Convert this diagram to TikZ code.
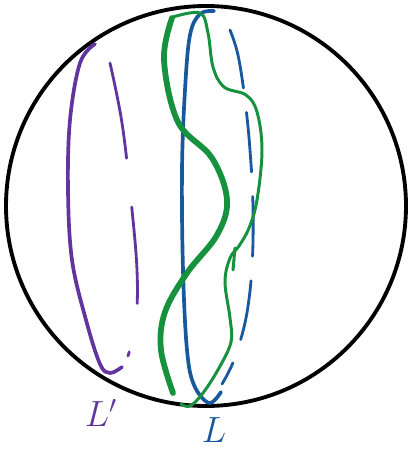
\documentclass[tikz,border=0pt]{standalone}
\usepackage{tikz}
\definecolor{lpurple}{RGB}{98,52,158}
\definecolor{lblue}{RGB}{24,88,156}
\definecolor{lgreen}{RGB}{22,146,62}

\begin{document}
\begin{tikzpicture}[x=0.02cm, y=-0.02cm, line cap=round, line join=round,
    sphere/.style = {draw, line width=2.2pt},
    front/.style = {line width=2.1pt},
    back/.style = {line width=1.6pt, dash pattern=on 55 off 28},
    wavy/.style = {draw=lgreen, line width=3.3pt},
    wavythin/.style = {draw=lgreen, line width=1.7pt},
    tag/.style = {font=\fontsize{22}{22}\selectfont}]
    \useasboundingbox (0,0) rectangle (410,456);

    % sphere
    \draw[sphere] (206,206) circle[radius=200];

    % purple curve L'
    \draw[front, lpurple] plot[smooth, tension=0.6] coordinates {(95,44) (80,63) (70,120) (68,190) (72,260) (86,320) (100,364) (110,373) (122,367)};
    \draw[back, lpurple] plot[smooth, tension=0.6] coordinates {(110,63) (122,123) (131,200) (137,270) (136,320) (128,356)};

    % blue curve L
    \draw[front, lblue] plot[smooth, tension=0.6] coordinates {(214,11) (200,14) (190,35) (185,90) (182,170) (183,270) (187,350) (194,385) (209,403) (221,392)};
    \draw[back, lblue, dash pattern=on 34 off 14] plot[smooth, tension=0.6] coordinates {(230,30) (238,55) (245,100) (250,150) (253,207) (252,267) (246,318) (234,360) (222,384)};

    % green curves
    \draw[wavy] plot[smooth, tension=0.6] coordinates {(172,18) (164,60) (178,122) (212,158) (227,200) (217,235) (187,273) (165,312) (161,350) (173,393)};
    \draw[wavythin] plot[smooth, tension=0.6] coordinates {(173,17) (200,13) (208,33) (213,67) (224,87) (246,95) (257,112) (262,150) (257,200) (249,228) (239,246) (230,258) (225,282) (230,318) (231,342) (219,368) (203,393) (190,406) (181,404)};
    \draw[wavythin] (235,248) -- (233,270);

    % labels
    \node[tag, lpurple] (Lp) at (101,413) {$L'$};
    \node[tag, lblue] (L) at (214,430) {$L$};
\end{tikzpicture}
\end{document}
